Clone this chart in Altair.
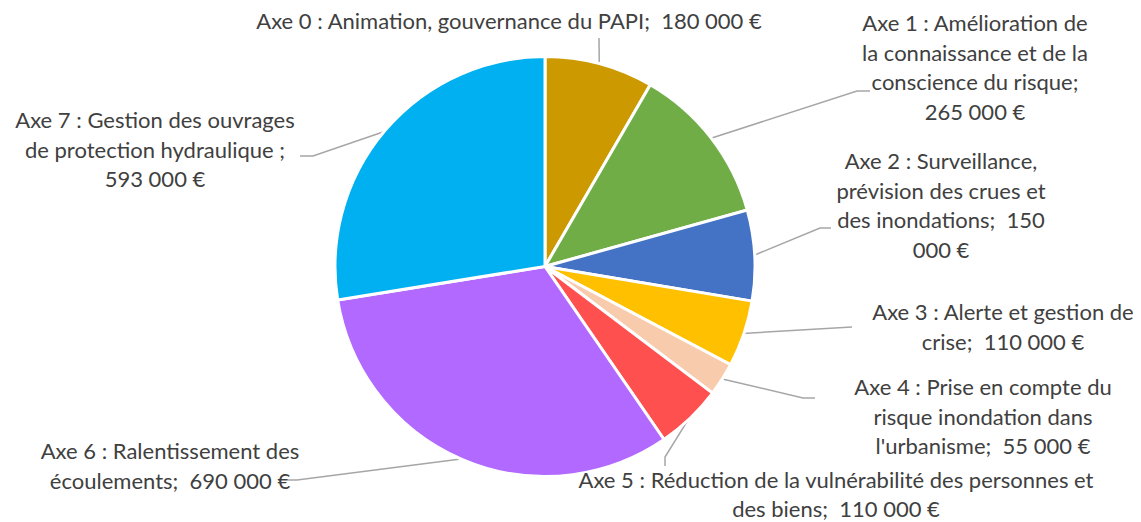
import math
import altair as alt
import pandas as pd

# ---- data ----
axes = ["Axe 0", "Axe 1", "Axe 2", "Axe 3", "Axe 4", "Axe 5", "Axe 6", "Axe 7"]
amounts = [180000, 265000, 150000, 110000, 55000, 110000, 690000, 593000]
label_lines = [
    ["Axe 0 : Animation, gouvernance du PAPI;"],
    ["Axe 1 : Amélioration de", "la connaissance et de la", "conscience du risque;"],
    ["Axe 2 : Surveillance,", "prévision des crues et", "des inondations;"],
    ["Axe 3 : Alerte et gestion de", "crise;"],
    ["Axe 4 : Prise en compte du", "risque inondation dans", "l'urbanisme;"],
    ["Axe 5 : Réduction de la vulnérabilité des personnes et", "des biens;"],
    ["Axe 6 : Ralentissement des", "écoulements;"],
    ["Axe 7 : Gestion des ouvrages", "de protection hydraulique ;"],
]
# how the amount is appended: "same" = on the last line, "new" = new line, "split" = split across lines
value_mode = ["same", "new", "split", "same", "same", "same", "same", "new"]
colors = ["#CC9A00", "#70AD47", "#4472C4", "#FFC000", "#F8CBAD", "#FF5050", "#B169FF", "#00B0F0"]

# ---- layout (image pixel coordinates) ----
W, H = 1125, 514
OFF = 8
CX, CY, R = 545, 266.5, 209
label_x = [509, 975, 941, 1003, 983, 836, 170, 155]
label_y = [22, 24, 162, 313, 388, 481, 452, 121]  # first line centre
line_h = [29.5, 29.5, 29.5, 29.5, 29.5, 28.5, 29.5, 29.5]
leader_tail = [
    [(599, 38)],
    [(857, 91), (870, 91)],
    [(820, 228), (831, 228)],
    [(852, 327)],
    [(803, 398), (815, 398)],
    [(665, 457), (665, 466)],
    [(297, 480), (278, 480)],
    [(313, 156), (300, 156)],
]

NB = "\u00a0"


def fmt(v):
    return f"{v:,}".replace(",", NB) + NB + "€"


rows_t = []
for i, (lines, mode, v) in enumerate(zip(label_lines, value_mode, amounts)):
    lines = list(lines)
    s = fmt(v)
    if mode == "same":
        lines[-1] = lines[-1] + " " + NB + s
    elif mode == "new":
        lines.append(s)
    else:
        head, tail = s.split(NB, 1)
        lines[-1] = lines[-1] + " " + NB + head
        lines.append(tail)
    for j, ln in enumerate(lines):
        rows_t.append({"axe": axes[i], "text": ln, "x": label_x[i], "y": label_y[i] + j * line_h[i]})

pie_df = pd.DataFrame({"axe": axes, "amount": amounts, "idx": list(range(len(axes)))})
lab_df = pd.DataFrame(rows_t)

total = sum(amounts)
rows = []
cum = 0
for i, v in enumerate(amounts):
    mid = (cum + v / 2) / total * 2 * math.pi
    cum += v
    sx = CX + R * math.sin(mid)
    sy = CY - R * math.cos(mid)
    pts = [(sx, sy)] + leader_tail[i]
    for k, (px, py) in enumerate(pts):
        rows.append({"axe": axes[i], "k": k, "x": px, "y": py})
lead_df = pd.DataFrame(rows)

xs = alt.Scale(domain=[OFF, OFF + W], range=[0, W])
ys = alt.Scale(domain=[OFF, OFF + H], range=[0, H])

pie = alt.Chart(pie_df).mark_arc(stroke="white", strokeWidth=3, radius=R + 1).encode(
    theta=alt.Theta("amount:Q", stack=True),
    order=alt.Order("idx:Q", sort="ascending"),
    color=alt.Color("axe:N", scale=alt.Scale(domain=axes, range=colors), legend=None),
    x=alt.value(CX - OFF),
    y=alt.value(CY - OFF),
)

leaders = alt.Chart(lead_df).mark_line(color="#A6A6A6", strokeWidth=1.5).encode(
    x=alt.X("x:Q", scale=xs, axis=None),
    y=alt.Y("y:Q", scale=ys, axis=None),
    detail="axe:N",
    order="k:Q",
)

labels = alt.Chart(lab_df).mark_text(
    align="center", baseline="middle",
    font="Lato", fontSize=22, color="#404040",
).encode(
    x=alt.X("x:Q", scale=xs, axis=None),
    y=alt.Y("y:Q", scale=ys, axis=None),
    text="text:N",
)

chart = alt.layer(leaders, pie, labels).properties(
    width=W, height=H, padding=0, autosize=alt.AutoSizeParams(type="none")
).configure_view(stroke=None).resolve_scale(x="shared", y="shared")

chart.save("out.html", embed_options={"renderer": "svg", "actions": False})
